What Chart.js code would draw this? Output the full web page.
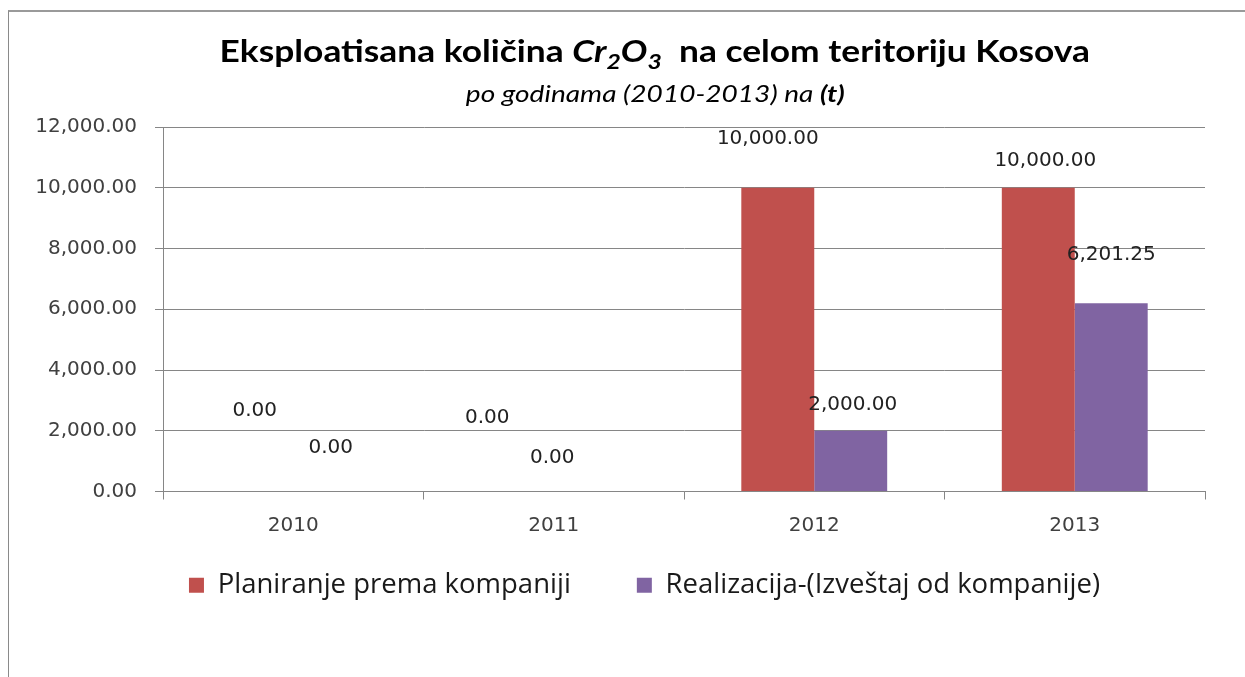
<!DOCTYPE html>
<html lang="sr-Latn">
<head>
<meta charset="UTF-8">
<title>Eksploatisana količina Cr2O3</title>
<script src="https://cdn.jsdelivr.net/npm/chart.js"></script>
<style>
  html, body { margin: 0; padding: 0; background: #fff; }
  #wrap { position: relative; width: 1245px; height: 677px; overflow: hidden; }
  #frame { position: absolute; left: 8px; top: 10px; width: 1400px; height: 800px;
           border-left: 1px solid #8a8a8a; border-top: 2px solid #9a9a9a; }
  #chart { position: absolute; left: 0; top: 0; }
  .ttl { position: absolute; left: 0; width: 1310px; text-align: center; color: #000; white-space: pre; }
  .ttl span { display: inline-block; transform-origin: 50% 50%; }
  #t1 { top: 30px; font: bold 31px Lato, sans-serif; line-height: 40px; }
  #t1 span { transform: scaleX(1.14); }
  #t2 { top: 79px; font: italic 23px Lato, sans-serif; line-height: 28px; }
  #t2 span { transform: scaleX(1.22); }
  sub { font-size: 0.7em; vertical-align: -0.3em; line-height: 0; }
</style>
</head>
<body>
<div id="wrap">
  <div id="frame"></div>
  <canvas id="chart" width="1245" height="677"></canvas>
  <div class="ttl" id="t1"><span>Eksploatisana količina <i>Cr<sub>2</sub>O<sub>3</sub></i>  na celom teritoriju Kosova</span></div>
  <div class="ttl" id="t2"><span>po godinama (2010-2013) na <b>(t)</b></span></div>
</div>
<script>
  const years = ['2010', '2011', '2012', '2013'];
  const planned = [0, 0, 10000, 10000];
  const realized = [0, 0, 2000, 6201.25];
  const seriesNames = ['Planiranje prema kompaniji', 'Realizacija-(Izveštaj od kompanije)'];
  const yTicks = [0, 2000, 4000, 6000, 8000, 10000, 12000];

  // label nudges (px) from the top-centre of each bar, as placed in the original
  const plannedLabelShift = [[-2, -81], [-30, -74], [-10, -49], [7, -27]];
  const realizedLabelShift = [[1, -44], [-38, -34], [2, -26], [0, -48]];

  const fmt = v => v.toLocaleString('en-US', { minimumFractionDigits: 2, maximumFractionDigits: 2 });
  const gridGray = '#868686';

  const barLabels = {
    id: 'barLabels',
    afterDatasetsDraw(chart) {
      const ctx = chart.ctx;
      const shifts = [plannedLabelShift, realizedLabelShift];
      ctx.save();
      ctx.font = '20px "DejaVu Sans"';
      ctx.fillStyle = '#222';
      ctx.textAlign = 'center';
      ctx.textBaseline = 'middle';
      chart.data.datasets.forEach((ds, i) => {
        chart.getDatasetMeta(i).data.forEach((bar, j) => {
          const [dx, dy] = shifts[i][j];
          ctx.fillText(fmt(ds.data[j]), bar.x + dx, bar.y + dy);
        });
      });
      ctx.restore();
    }
  };

  // Excel centres the legend under a narrower box than the full canvas, and closer to the axis
  const legendPlace = {
    id: 'legendPlace',
    afterLayout(chart) {
      const lg = chart.legend;
      const area = chart.chartArea;
      lg.left = area.left - 79;
      lg.right = area.right;
      lg.top = area.bottom + 14;
      lg.bottom = lg.top + lg.height;
    }
  };

  new Chart(document.getElementById('chart'), {
    type: 'bar',
    data: {
      labels: years,
      datasets: [
        { label: seriesNames[0], data: planned, backgroundColor: '#C0504D', borderWidth: 0 },
        { label: seriesNames[1], data: realized, backgroundColor: '#8064A2', borderWidth: 0 }
      ]
    },
    options: {
      responsive: false,
      animation: false,
      layout: { padding: { left: 10, right: 40, top: 127, bottom: 22 } },
      datasets: { bar: { categoryPercentage: 0.56, barPercentage: 1 } },
      plugins: {
        title: { display: false },
        tooltip: { enabled: false },
        legend: {
          position: 'bottom',
          labels: {
            boxWidth: 15,
            boxHeight: 15,
            padding: 66,
            color: '#1a1a1a',
            font: { family: '"Open Sans"', size: 27.5 }
          }
        }
      },
      scales: {
        x: {
          grid: { display: true, drawOnChartArea: false, offset: true, tickLength: 8, color: gridGray },
          border: { color: gridGray },
          ticks: { color: '#404040', padding: 14, font: { family: '"DejaVu Sans"', size: 20 } }
        },
        y: {
          min: 0,
          max: 12000,
          afterBuildTicks(scale) { scale.ticks = yTicks.map(v => ({ value: v })); },
          grid: { color: gridGray, tickLength: 8 },
          border: { color: gridGray },
          ticks: { color: '#404040', padding: 18, font: { family: '"DejaVu Sans"', size: 20 }, callback: v => fmt(v) },
          afterFit(scale) { scale.width = 153; }
        }
      }
    },
    plugins: [barLabels, legendPlace]
  });
</script>
</body>
</html>
